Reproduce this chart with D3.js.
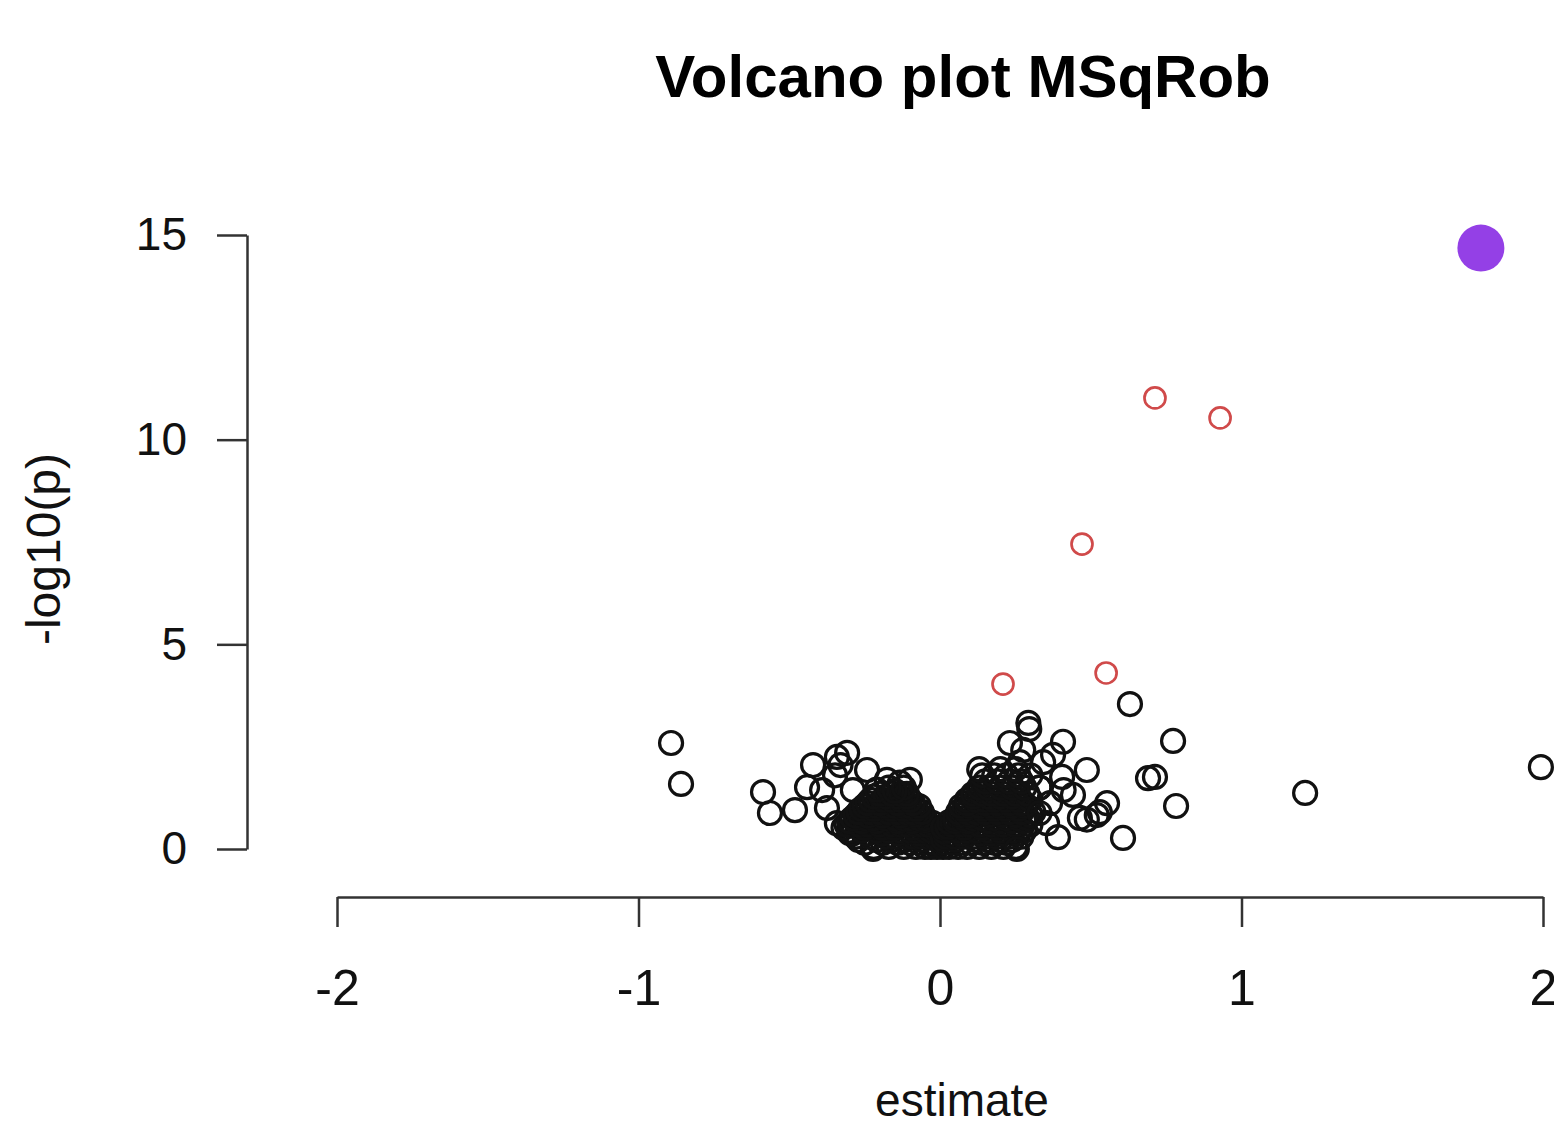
<!DOCTYPE html>
<html>
<head>
<meta charset="utf-8">
<script src="https://cdn.jsdelivr.net/npm/d3@7"></script>
<style>
  body { margin: 0; background: #fff; }
  svg { display: block; font-family: "Liberation Sans", Arial, sans-serif; }
</style>
</head>
<body>
<svg width="1554" height="1125"></svg>
<script>
// estimate, -log10(p)
var topHit = [[1.794, 14.68]];

var sigHits = [
  [0.713, 11.02], [0.929, 10.53], [0.471, 7.45], [0.209, 4.03], [0.551, 4.30]
];

var outliersLeft = [
  [-0.892, 2.59], [-0.859, 1.59],
  [-0.587, 1.39], [-0.564, 0.88], [-0.481, 0.95], [-0.441, 1.51], [-0.421, 2.05],
  [-0.342, 2.25], [-0.308, 2.35], [-0.33, 2.05], [-0.348, 1.8], [-0.391, 1.44],
  [-0.289, 1.44], [-0.242, 1.93], [-0.375, 1.0], [-0.342, 0.63], [-0.30, 0.39],
  [-0.222, 0.0], [-0.176, 1.69], [-0.10, 1.69], [-0.133, 1.62], [-0.265, 0.95],
  [-0.30, 0.63]
];

var outliersRight = [
  [0.630, 3.54], [0.773, 2.64], [1.211, 1.37], [1.993, 2.0], [0.783, 1.05],
  [0.69, 1.73], [0.713, 1.76], [0.607, 0.27], [0.293, 3.08], [0.296, 2.93],
  [0.232, 2.59], [0.276, 2.42], [0.408, 2.62], [0.375, 2.3], [0.487, 1.93],
  [0.265, 2.12], [0.342, 2.12], [0.405, 1.76], [0.441, 1.32], [0.554, 1.12],
  [0.52, 0.83], [0.53, 0.9], [0.464, 0.76], [0.487, 0.72], [0.391, 0.29],
  [0.355, 0.63], [0.255, 0.0], [0.365, 1.12], [0.33, 1.5], [0.41, 1.44],
  [0.33, 0.88]
];

var coreLeft = [
  [-0.22, 0.05], [-0.17, 0.05], [-0.12, 0.05], [-0.08, 0.05], [-0.05, 0.05], [-0.03, 0.05], [-0.01, 0.05],
  [-0.25, 0.15], [-0.19, 0.15], [-0.14, 0.15], [-0.10, 0.15], [-0.07, 0.15], [-0.04, 0.15], [-0.02, 0.15],
  [-0.27, 0.22], [-0.21, 0.22], [-0.16, 0.22], [-0.12, 0.22], [-0.06, 0.22], [-0.01, 0.24],
  [-0.28, 0.3], [-0.23, 0.3], [-0.18, 0.3], [-0.15, 0.3], [-0.11, 0.3], [-0.09, 0.3], [-0.06, 0.3], [-0.04, 0.3], [-0.02, 0.3],
  [-0.29, 0.38], [-0.24, 0.38], [-0.19, 0.38], [-0.14, 0.38], [-0.07, 0.38], [-0.015, 0.4],
  [-0.30, 0.45], [-0.26, 0.45], [-0.21, 0.45], [-0.17, 0.45], [-0.13, 0.45], [-0.10, 0.45], [-0.08, 0.45], [-0.05, 0.45], [-0.03, 0.45],
  [-0.32, 0.52], [-0.25, 0.52], [-0.19, 0.52], [-0.15, 0.52], [-0.09, 0.52], [-0.02, 0.52], [-0.005, 0.5],
  [-0.31, 0.6], [-0.27, 0.6], [-0.24, 0.6], [-0.20, 0.6], [-0.16, 0.6], [-0.13, 0.6], [-0.11, 0.6], [-0.08, 0.6], [-0.06, 0.6], [-0.04, 0.6],
  [-0.025, 0.64],
  [-0.30, 0.68], [-0.26, 0.68], [-0.21, 0.68], [-0.14, 0.68], [-0.09, 0.68], [-0.05, 0.7],
  [-0.29, 0.75], [-0.25, 0.75], [-0.22, 0.75], [-0.18, 0.75], [-0.15, 0.75], [-0.12, 0.75], [-0.10, 0.75], [-0.07, 0.75], [-0.05, 0.75],
  [-0.28, 0.82], [-0.24, 0.82], [-0.19, 0.82], [-0.13, 0.82], [-0.08, 0.84],
  [-0.27, 0.9], [-0.23, 0.9], [-0.20, 0.9], [-0.17, 0.9], [-0.14, 0.9], [-0.11, 0.9], [-0.09, 0.9], [-0.06, 0.9],
  [-0.26, 0.98], [-0.22, 0.98], [-0.16, 0.98], [-0.12, 0.98], [-0.08, 0.98],
  [-0.25, 1.05], [-0.21, 1.05], [-0.18, 1.05], [-0.15, 1.05], [-0.12, 1.05], [-0.10, 1.05], [-0.07, 1.05],
  [-0.24, 1.12], [-0.2, 1.12], [-0.14, 1.12], [-0.09, 1.12],
  [-0.23, 1.2], [-0.19, 1.2], [-0.16, 1.2], [-0.13, 1.2], [-0.10, 1.2],
  [-0.22, 1.28], [-0.18, 1.28], [-0.14, 1.28], [-0.11, 1.28],
  [-0.20, 1.35], [-0.16, 1.35], [-0.13, 1.35], [-0.11, 1.35],
  [-0.17, 1.5], [-0.12, 1.5], [-0.21, 1.45], [-0.15, 1.42]
];

var coreRight = [
  [0.01, 0.05], [0.03, 0.05], [0.06, 0.05], [0.09, 0.05], [0.13, 0.05], [0.17, 0.05], [0.21, 0.05], [0.25, 0.05],
  [0.02, 0.15], [0.04, 0.15], [0.07, 0.15], [0.10, 0.15], [0.14, 0.15], [0.18, 0.15], [0.22, 0.15],
  [0.01, 0.24], [0.05, 0.22], [0.12, 0.22], [0.16, 0.22], [0.2, 0.22], [0.24, 0.22],
  [0.02, 0.3], [0.05, 0.3], [0.08, 0.3], [0.11, 0.3], [0.15, 0.3], [0.19, 0.3], [0.23, 0.3], [0.27, 0.3],
  [0.015, 0.42], [0.07, 0.38], [0.13, 0.38], [0.17, 0.38], [0.21, 0.38], [0.26, 0.38],
  [0.03, 0.45], [0.06, 0.45], [0.09, 0.45], [0.12, 0.45], [0.16, 0.45], [0.20, 0.45], [0.24, 0.45], [0.28, 0.45],
  [0.01, 0.53], [0.025, 0.54], [0.08, 0.52], [0.14, 0.52], [0.19, 0.52], [0.23, 0.52], [0.27, 0.52],
  [0.04, 0.6], [0.07, 0.6], [0.10, 0.6], [0.13, 0.6], [0.17, 0.6], [0.21, 0.6], [0.25, 0.6], [0.30, 0.6],
  [0.03, 0.66], [0.05, 0.68], [0.09, 0.68], [0.16, 0.68], [0.2, 0.68], [0.24, 0.68], [0.28, 0.68],
  [0.05, 0.75], [0.08, 0.75], [0.11, 0.75], [0.14, 0.75], [0.18, 0.75], [0.22, 0.75], [0.26, 0.75], [0.29, 0.75],
  [0.07, 0.83], [0.1, 0.83], [0.16, 0.83], [0.21, 0.83], [0.25, 0.83], [0.3, 0.83],
  [0.06, 0.9], [0.09, 0.9], [0.12, 0.9], [0.15, 0.9], [0.19, 0.9], [0.23, 0.9], [0.27, 0.9], [0.31, 0.9],
  [0.08, 0.98], [0.14, 0.98], [0.18, 0.98], [0.22, 0.98], [0.26, 0.98],
  [0.07, 1.05], [0.10, 1.05], [0.13, 1.05], [0.17, 1.05], [0.20, 1.05], [0.24, 1.05], [0.28, 1.05],
  [0.09, 1.12], [0.15, 1.12], [0.19, 1.12], [0.23, 1.12], [0.27, 1.12],
  [0.09, 1.2], [0.12, 1.2], [0.15, 1.2], [0.18, 1.2], [0.22, 1.2], [0.26, 1.2], [0.30, 1.2],
  [0.11, 1.28], [0.16, 1.28], [0.2, 1.28], [0.24, 1.28],
  [0.11, 1.35], [0.14, 1.35], [0.17, 1.35], [0.21, 1.35], [0.25, 1.35], [0.29, 1.35],
  [0.13, 1.5], [0.16, 1.5], [0.20, 1.5], [0.24, 1.5], [0.28, 1.5], [0.33, 1.5],
  [0.15, 1.65], [0.19, 1.65], [0.23, 1.65], [0.27, 1.65],
  [0.14, 1.8], [0.18, 1.8], [0.22, 1.8], [0.26, 1.8], [0.30, 1.8],
  [0.13, 1.95], [0.20, 1.95], [0.25, 1.95]
];

var xTicks = [-2, -1, 0, 1, 2];
var yTicks = [0, 5, 10, 15];

var svg = d3.select("svg");

var x = d3.scaleLinear().domain([-2, 2]).range([337, 1543]);
var y = d3.scaleLinear().domain([0, 15]).range([849, 235]);

svg.append("text")
  .attr("x", 963).attr("y", 97)
  .attr("text-anchor", "middle")
  .style("font-size", "60px").style("font-weight", "bold")
  .text("Volcano plot MSqRob");

// R style axes: domain only over the tick range
var plainNum = function(d) { return String(d); };
var yAxis = svg.append("g")
  .attr("transform", "translate(247,0)")
  .call(d3.axisLeft(y).tickValues(yTicks).tickFormat(plainNum)
    .tickSize(30).tickSizeOuter(0).tickPadding(30));
var xAxis = svg.append("g")
  .attr("transform", "translate(0,897)")
  .call(d3.axisBottom(x).tickValues(xTicks).tickFormat(plainNum)
    .tickSize(30).tickSizeOuter(0).tickPadding(42));

[yAxis, xAxis].forEach(function(ax) {
  ax.select(".domain").attr("stroke", "#333").attr("stroke-width", 2.5);
  ax.selectAll(".tick line").attr("stroke", "#333").attr("stroke-width", 2.5);
  ax.selectAll(".tick text").attr("fill", "#111").style("font-size", "46px")
    .style("font-family", "'Liberation Sans', Arial, sans-serif");
});
xAxis.selectAll(".tick text").style("font-size", "50px");

svg.append("text")
  .attr("transform", "translate(60,549) rotate(-90)")
  .attr("text-anchor", "middle")
  .style("font-size", "48px").attr("fill", "#111")
  .text("-log10(p)");

svg.append("text")
  .attr("x", 962).attr("y", 1116)
  .attr("text-anchor", "middle")
  .style("font-size", "46px").attr("fill", "#111")
  .text("estimate");

var plain = outliersLeft.concat(coreLeft, coreRight, outliersRight);

svg.append("g").attr("id", "plainG")
  .selectAll("circle")
  .data(plain)
  .enter()
  .append("circle")
  .attr("cx", function(d) { return x(d[0]); })
  .attr("cy", function(d) { return y(d[1]); })
  .attr("r", 11.5)
  .style("fill", "none")
  .style("stroke", "#111")
  .style("stroke-width", "3.2px");

svg.append("g").attr("id", "sigG")
  .selectAll("circle")
  .data(sigHits)
  .enter()
  .append("circle")
  .attr("cx", function(d) { return x(d[0]); })
  .attr("cy", function(d) { return y(d[1]); })
  .attr("r", 10.5)
  .style("fill", "none")
  .style("stroke", "#d04a4a")
  .style("stroke-width", "2.7px");

svg.append("g").attr("id", "topG")
  .selectAll("circle")
  .data(topHit)
  .enter()
  .append("circle")
  .attr("cx", function(d) { return x(d[0]); })
  .attr("cy", function(d) { return y(d[1]); })
  .attr("r", 23.5)
  .style("fill", "#9440e6");
</script>
</body>
</html>
